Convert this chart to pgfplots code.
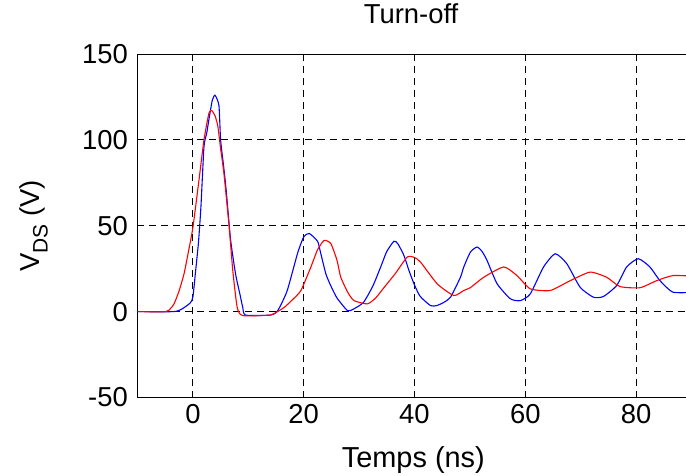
\documentclass[border=0pt]{standalone}
\usepackage{fontspec}
\setmainfont{Liberation Sans}
\usepackage{pgfplots}
\pgfplotsset{compat=1.18}
\begin{document}
\begin{tikzpicture}
\useasboundingbox (-137.5bp,-78.5bp) rectangle (548.5bp,397.5bp);
\begin{axis}[
  scale only axis, width=559.5bp, height=343.5bp,
  xmin=-10, xmax=91, ymin=-50, ymax=150,
  xtick={0,20,40,60,80}, ytick={-50,0,50,100,150},
  grid=major,
  major grid style={black, line width=0.8bp, dash pattern=on 7bp off 5bp},
  axis line style={black, line width=0.9bp},
  tick align=inside, major tick length=6bp, tick style={black, line width=0.8bp},
  /pgf/number format/assume math mode=true,
  ticklabel style={font=\fontsize{27.5}{33}\selectfont},
  xticklabel style={anchor=base, inner sep=0pt, yshift=-25.5bp},
  yticklabel style={anchor=east, inner sep=0pt, xshift=-9.5bp},
  title={Turn-off},
  title style={font=\fontsize{27.5}{33}\selectfont, at={(0.489,1)}, anchor=base, inner sep=0pt, yshift=25bp},
  xlabel={Temps (ns)},
  xlabel style={font=\fontsize{29}{33}\selectfont, at={(0.493,0)}, anchor=base, inner sep=0pt, yshift=-69.5bp},
  ylabel={V\raisebox{-0.28em}{\fontsize{21}{21}\selectfont DS} (V)},
  ylabel style={font=\fontsize{27.5}{33}\selectfont, at={(-0.1743,0.5)}, anchor=base, inner sep=0pt, rotate=0},
]
\addplot[blue, line width=1.1bp, smooth, tension=0.35] coordinates {
(-10,0) (-3.5,0) (-2,1.5) (-0.5,5) (0,8.5) (0.5,24) (1,40) (1.45,61) (2,96) (2.5,104) (2.9,112) (3.5,123) (4,126) (4.7,120) (5,100) (5.5,86) (6,71) (6.8,42) (7.7,22) (8.5,10) (9,2.5) (9.5,-2) (14,-2) (15.3,0.5) (17,12) (18.9,34) (20,43.5) (21,45.5) (22.5,41) (23,35) (24,22) (24.9,15) (26,8) (27.9,0.6) (29,1.5) (30.8,5.4) (32.5,15) (33.9,26) (35,35) (36.3,41) (37,39.5) (38.1,32.7) (39,24) (39.9,16.3) (41,9) (42.9,3.5) (44,3.5) (45.3,5.4) (46.5,8.4) (48.3,20) (48.9,26) (50.1,34.7) (51.3,37.6) (52.2,35) (53.1,29.8) (54.9,16.3) (57.3,7.5) (59.1,6.4) (60.9,10.3) (63.3,26) (65.4,33.7) (67.5,27.9) (69.9,14.2) (72.3,8.4) (74.1,8.8) (76.5,15.2) (78.3,26) (80.4,30.8) (82.5,26) (84.3,18.1) (86.7,11.3) (91,11.3)
};
\addplot[red, line width=1.1bp, smooth, tension=0.35] coordinates {
(-10,0) (-4.9,0) (-4,2) (-3.4,4.5) (-2.5,12) (-1.6,22) (-0.8,35) (0,49) (1.1,76.6) (2,100) (2.9,115.6) (3.4,117) (4,114) (4.5,108) (5,95) (5.6,80.5) (6.5,51) (7.2,24) (8,2.5) (9,-2.3) (14,-2) (15,-0.5) (16.5,2.5) (18,7) (19.5,12.3) (21.3,26) (22.5,36) (23.7,41.5) (24.9,39.6) (26,30) (26.7,20) (28,11) (29.1,6.4) (31.5,4.5) (33,8) (34.5,14) (36.5,22) (38.7,31.8) (40,31.5) (41.1,28.8) (44.1,16.2) (47.1,9.4) (48.9,12.3) (50.1,14) (52.5,20) (56.1,26) (58.5,21) (60.9,13.3) (64.5,12.3) (68.1,18) (71.7,23) (74.7,20) (77.1,14.6) (80.7,13.9) (83.7,18) (86.7,21) (91,20.5)
};
\end{axis}
\end{tikzpicture}
\end{document}
